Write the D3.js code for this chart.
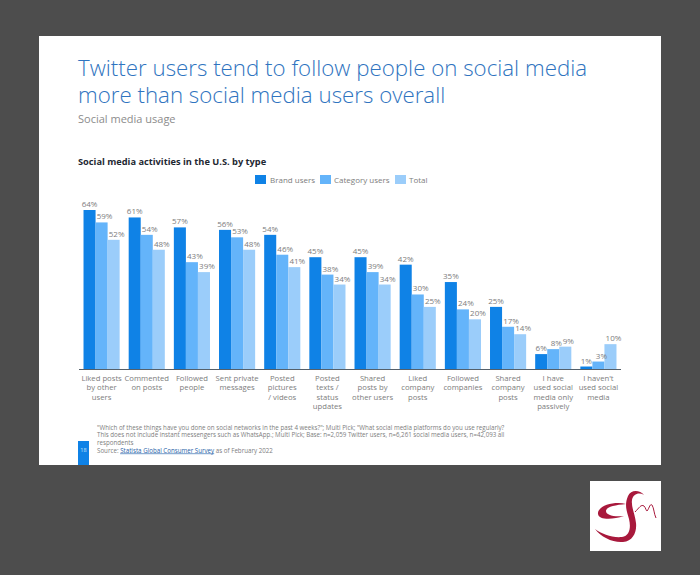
<!DOCTYPE html>
<html>
<head>
<meta charset="utf-8">
<script src="https://cdn.jsdelivr.net/npm/d3@7"></script>
<style>
  html, body { margin: 0; padding: 0; background: #4d4d4d; }
  svg { display: block; }
  text { font-family: "Open Sans", sans-serif; }
</style>
</head>
<body>
<script>
var categories = [
  ["Liked posts", "by other", "users"],
  ["Commented", "on posts"],
  ["Followed", "people"],
  ["Sent private", "messages"],
  ["Posted", "pictures", "/ videos"],
  ["Posted", "texts /", "status", "updates"],
  ["Shared", "posts by", "other users"],
  ["Liked", "company", "posts"],
  ["Followed", "companies"],
  ["Shared", "company", "posts"],
  ["I have", "used social", "media only", "passively"],
  ["I haven't", "used social", "media"]
];
var seriesNames = ["Brand users", "Category users", "Total"];
var brandUsers = [64, 61, 57, 56, 54, 45, 45, 42, 35, 25, 6, 1];
var categoryUsers = [59, 54, 43, 53, 46, 38, 39, 30, 24, 17, 8, 3];
var totalUsers = [52, 48, 39, 48, 41, 34, 34, 25, 20, 14, 9, 10];
var seriesValues = [brandUsers, categoryUsers, totalUsers];
var colors = ["#0f82e6", "#64b4fa", "#9bcdfa"];
var titleLines = ["Twitter users tend to follow people on social media", "more than social media users overall"];
var footLines = [
  "\"Which of these things have you done on social networks in the past 4 weeks?\"; Multi Pick; \"What social media platforms do you use regularly?",
  "This does not include instant messengers such as WhatsApp.; Multi Pick; Base: n=2,059 Twitter users, n=6,261  social media users, n=42,093 all",
  "respondents"
];

var w = 700;
var h = 575;
var grey = "#7d7d7d";

var svg = d3.select("body")
            .append("svg")
            .attr("width", w)
            .attr("height", h);

// slide + logo box
svg.append("rect").attr("x", 39).attr("y", 36).attr("width", 622).attr("height", 429).attr("fill", "#fff");
svg.append("rect").attr("x", 590).attr("y", 481).attr("width", 71).attr("height", 70).attr("fill", "#fff");

svg.selectAll(".title")
   .data(titleLines)
   .enter()
   .append("text")
   .attr("class", "title")
   .attr("x", 78)
   .attr("y", function(d, i) { return 76 + i * 26.5; })
   .attr("font-size", 22.3)
   .attr("font-weight", 300)
   .attr("fill", "#2f74c0")
   .text(function(d) { return d; });

svg.append("text").attr("x", 78).attr("y", 123).attr("font-size", 11)
   .attr("fill", "#8c8c8c").text("Social media usage");

svg.append("text").attr("x", 78).attr("y", 165).attr("font-size", 9.25)
   .attr("font-weight", 700).attr("fill", "#1e2832").text("Social media activities in the U.S. by type");

// legend
var legendX = [255, 320, 395];
var legendTextX = [270, 334, 409];
seriesNames.forEach(function(name, i) {
  svg.append("rect").attr("x", legendX[i]).attr("y", 175).attr("width", 11).attr("height", 9).attr("fill", colors[i]);
  svg.append("text").attr("x", legendTextX[i]).attr("y", 183).attr("font-size", 8)
     .attr("fill", grey).text(name);
});

// scales
var x0 = d3.scaleBand()
           .domain(d3.range(categories.length))
           .range([79, 621])
           .paddingInner(0.2)
           .paddingOuter(0.1);
var x1 = d3.scaleBand()
           .domain(d3.range(seriesValues.length))
           .range([0, x0.bandwidth()]);
var y = d3.scaleLinear().domain([0, 64]).range([369, 210]);

// value labels sit a little right of the 2nd and 3rd bars
var labelNudge = [0, 3, 3];

seriesValues.forEach(function(values, s) {
  svg.selectAll(".bar" + s)
     .data(values)
     .enter()
     .append("rect")
     .attr("class", "bar" + s)
     .attr("x", function(d, i) { return x0(i) + x1(s); })
     .attr("y", function(d) { return y(d); })
     .attr("width", x1.bandwidth())
     .attr("height", function(d) { return y(0) - y(d); })
     .attr("fill", colors[s]);
});

seriesValues.forEach(function(values, s) {
  svg.selectAll(".val" + s)
     .data(values)
     .enter()
     .append("text")
     .attr("class", "val" + s)
     .attr("x", function(d, i) { return x0(i) + x1(s) + x1.bandwidth() / 2 + labelNudge[s]; })
     .attr("y", function(d) { return y(d) - 3; })
     .attr("text-anchor", "middle")
     .attr("font-size", 8)
     .attr("fill", grey)
     .text(function(d) { return d + "%"; });
});

// baseline
svg.append("line").attr("x1", 79).attr("x2", 621).attr("y1", 369.5).attr("y2", 369.5)
   .attr("stroke", "#55606a").attr("stroke-width", 1);

// category labels
categories.forEach(function(lines, i) {
  svg.selectAll(".cat" + i)
     .data(lines)
     .enter()
     .append("text")
     .attr("class", "cat" + i)
     .attr("x", x0(i) + x0.bandwidth() / 2)
     .attr("y", function(d, j) { return 380.5 + j * 9.5; })
     .attr("text-anchor", "middle")
     .attr("font-size", 7.7)
     .attr("fill", grey)
     .text(function(d) { return d; });
});

// footnote
svg.selectAll(".foot")
   .data(footLines)
   .enter()
   .append("text")
   .attr("class", "foot")
   .attr("x", 97)
   .attr("y", function(d, i) { return 429.5 + i * 7.6; })
   .attr("font-size", 6.2)
   .attr("fill", grey)
   .text(function(d) { return d; });

var source = svg.append("text").attr("x", 97).attr("y", 452.5).attr("font-size", 6.2).attr("fill", grey);
source.append("tspan").text("Source: ");
source.append("tspan").attr("fill", "#1f5fa8").attr("text-decoration", "underline").text("Statista Global Consumer Survey");
source.append("tspan").text(" as of February 2022");

// page number
svg.append("rect").attr("x", 78).attr("y", 441).attr("width", 11).attr("height", 24).attr("fill", "#0f82e6");
svg.append("text").attr("x", 83.5).attr("y", 452).attr("text-anchor", "middle").attr("font-size", 5.5)
   .attr("fill", "#cfe6fb").text("18");

// logo
var logo = svg.append("g").attr("fill", "#a8193c");
logo.append("path")
    .attr("d", "M626 504 C614 501 597 506 598 514 C599 520 612 520 624 516 C613 517 606 515 606 511 C606 507 615 505 626 504Z");
logo.append("path")
    .attr("d", "M644 495 C640 490 631 489 628 496 C624 505 627 512 629 519 C631 527 630 536 622 537 C612 538 602 534 595 529 C601 537 613 543 623 542 C633 541 637 532 636 523 C635 514 631 507 632 500 C633 494 639 492 644 495Z");
logo.append("path")
    .attr("fill", "none")
    .attr("stroke", "#a8193c")
    .attr("stroke-width", 1)
    .attr("d", "M635 512 C639 508 641 504 644 506 C646 508 646 511 647 511 C649 509 650 503 652 505 C654 508 654 514 656 518");
</script>
</body>
</html>
